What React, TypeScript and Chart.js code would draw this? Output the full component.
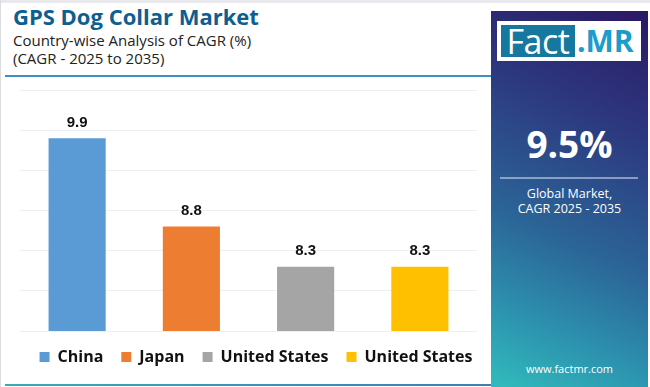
import { useEffect, useRef } from "react";
import { Chart, registerables } from "chart.js";

Chart.register(...registerables);

const categories = ["China", "Japan", "United States", "United States"];
const values = [9.9, 8.8, 8.3, 8.3];
const barColors = ["#5b9bd5", "#ed7d31", "#a5a5a5", "#ffc000"];
const yMin = 7.5;
const yMax = 10.5;
const yStep = 0.5;

const FONT = "'Open Sans', 'Noto Sans', sans-serif";

const valueLabels = {
  id: "valueLabels",
  afterDatasetsDraw(chart: any) {
    const ctx = chart.ctx;
    ctx.save();
    ctx.font = "bold 15px 'Liberation Sans', Arial, sans-serif";
    ctx.fillStyle = "#111111";
    ctx.textAlign = "center";
    ctx.textBaseline = "middle";
    chart.data.datasets.forEach((ds: any, di: number) => {
      const meta = chart.getDatasetMeta(di);
      meta.data.forEach((el: any, i: number) => {
        const v = ds.data[i];
        if (v === null || v === undefined) return;
        ctx.fillText(Number(v).toFixed(1), el.x, el.y - 15.5);
      });
    });
    ctx.restore();
  },
};

export default function App() {
  const canvasRef = useRef<HTMLCanvasElement | null>(null);

  useEffect(() => {
    if (!canvasRef.current) return;
    const chart = new Chart(canvasRef.current, {
      type: "bar",
      data: {
        labels: categories,
        datasets: categories.map((c, i) => ({
          label: c,
          data: values.map((v, j) => (j === i ? v : null)),
          backgroundColor: barColors[i],
          borderWidth: 0,
          barPercentage: 0.5,
          categoryPercentage: 1,
          skipNull: true,
        })),
      },
      options: {
        responsive: false,
        animation: false,
        layout: { padding: { top: 10, left: 0, right: 0, bottom: 0 } },
        plugins: {
          tooltip: { enabled: false },
          legend: {
            display: true,
            position: "bottom",
            labels: {
              boxWidth: 10,
              boxHeight: 10,
              padding: 18,
              color: "#111111",
              font: { family: FONT, size: 16, weight: "bold" },
            },
          },
        },
        scales: {
          x: { display: false },
          y: {
            min: yMin,
            max: yMax,
            ticks: { display: false, stepSize: yStep },
            grid: { color: "#efeff2", drawTicks: false, tickLength: 0, lineWidth: 1 },
            border: { display: false },
            afterFit: (s: any) => {
              s.width = 20;
            },
          },
          yRight: {
            position: "right",
            display: true,
            ticks: { display: false },
            grid: { display: false, drawTicks: false, tickLength: 0 },
            border: { display: false },
            afterFit: (s: any) => {
              s.width = 35;
            },
          },
        },
      } as any,
      plugins: [valueLabels],
    });
    return () => chart.destroy();
  }, []);

  return (
    <div
      style={{
        position: "fixed",
        left: 0,
        top: 0,
        width: 650,
        height: 387,
        overflow: "hidden",
        background: "#ffffff",
        fontFamily: FONT,
      }}
    >
      <div style={{ position: "absolute", left: 0, top: 0, width: 650, height: 3, background: "#e9e9ed" }} />
      <div style={{ position: "absolute", left: 0, top: 0, width: 1, height: 387, background: "#dcdce0" }} />
      <div
        style={{
          position: "absolute",
          left: 13,
          top: 5,
          fontSize: 22,
          lineHeight: "22px",
          fontWeight: 700,
          color: "#0f5e90",
          whiteSpace: "nowrap",
        }}
      >
        GPS Dog Collar Market
      </div>
      <div
        style={{
          position: "absolute",
          left: 13,
          top: 33,
          fontSize: 15,
          lineHeight: "15px",
          color: "#222222",
          whiteSpace: "nowrap",
        }}
      >
        Country-wise Analysis of CAGR (%)
      </div>
      <div
        style={{
          position: "absolute",
          left: 13,
          top: 51,
          fontSize: 15,
          lineHeight: "15px",
          color: "#222222",
          whiteSpace: "nowrap",
        }}
      >
        (CAGR - 2025 to 2035)
      </div>
      <div style={{ position: "absolute", left: 5, top: 75, width: 486, height: 2, background: "#3f8fc2" }} />
      <canvas
        ref={canvasRef}
        width={512}
        height={295}
        style={{ position: "absolute", left: 0, top: 80, width: 512, height: 295 }}
      />
      <div
        style={{
          position: "absolute",
          left: 5,
          top: 384,
          width: 487,
          height: 2,
          background: "linear-gradient(90deg, #3aa9b8, #3d7fb0)",
        }}
      />
      <div
        style={{
          position: "absolute",
          left: 491,
          top: 11,
          width: 157,
          height: 376,
          background: "linear-gradient(205deg, #2b1864 0%, #2c3a80 30%, #2b6597 60%, #2c8fae 80%, #31bcbc 100%)",
          color: "#ffffff",
        }}
      >
        <div
          style={{
            position: "absolute",
            left: 6,
            top: 10,
            width: 144,
            height: 40,
            background: "#ffffff",
          }}
        >
          <div
            style={{
              position: "absolute",
              left: 4,
              top: 4,
              width: 74,
              height: 32,
              background: "#16789f",
              color: "#ffffff",
              fontSize: 34,
              lineHeight: "32px",
              textAlign: "center",
              fontWeight: 400,
              letterSpacing: -0.5,
            }}
          >
            Fact
          </div>
          <div
            style={{
              position: "absolute",
              left: 80,
              top: 4,
              width: 62,
              height: 32,
              color: "#1a9dcc",
              fontSize: 30,
              lineHeight: "32px",
              fontWeight: 700,
              textAlign: "left",
            }}
          >
            .MR
          </div>
        </div>
        <div
          style={{
            position: "absolute",
            left: 0,
            top: 115,
            width: 157,
            textAlign: "center",
            fontSize: 37,
            lineHeight: "36px",
            fontWeight: 700,
          }}
        >
          9.5%
        </div>
        <div
          style={{
            position: "absolute",
            left: 9,
            top: 166,
            width: 138,
            height: 2,
            background: "rgba(255,255,255,0.45)",
          }}
        />
        <div
          style={{
            position: "absolute",
            left: 0,
            top: 175,
            width: 157,
            textAlign: "center",
            fontSize: 12.5,
            lineHeight: "15px",
          }}
        >
          Global Market,
          <br />
          CAGR 2025 - 2035
        </div>
        <div
          style={{
            position: "absolute",
            left: 0,
            top: 351,
            width: 157,
            textAlign: "center",
            fontSize: 11,
            lineHeight: "13px",
          }}
        >
          www.factmr.com
        </div>
      </div>
    </div>
  );
}
